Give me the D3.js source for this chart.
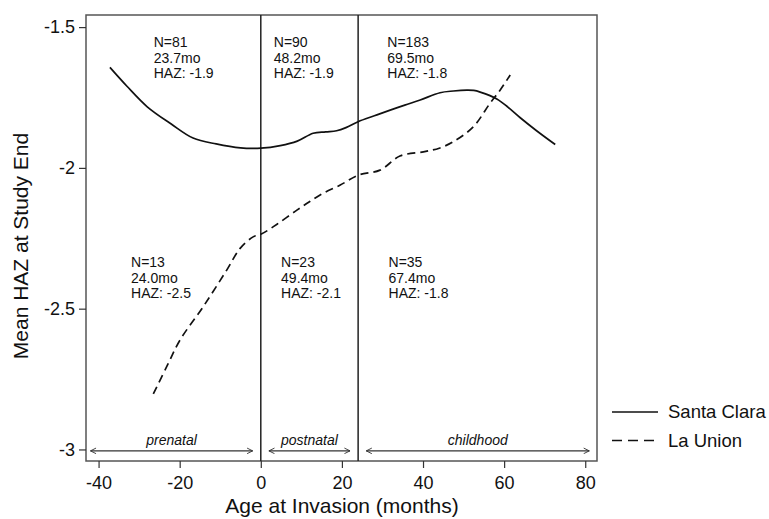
<!DOCTYPE html>
<html>
<head>
<meta charset="utf-8">
<script src="https://cdn.jsdelivr.net/npm/d3@7"></script>
<style>
  body { margin: 0; background: #fff; }
  svg text { font-family: "Liberation Sans", Arial, sans-serif; fill: #111; }
</style>
</head>
<body>
<div id="chart"></div>
<script>
// Santa Clara (solid)
const santaClaraAge = [-37.2, -33, -28, -22, -16.7, -11, -5, 0, 4.8, 9, 12.9, 16, 18.7, 21, 24, 28, 31.9, 35.5, 39.3, 44.2, 47.5, 50.8, 52.5, 54.1, 58.2, 61, 63.9, 68, 72.6];
const santaClaraHAZ = [-1.643, -1.71, -1.783, -1.845, -1.894, -1.915, -1.929, -1.93, -1.921, -1.905, -1.877, -1.872, -1.868, -1.857, -1.836, -1.815, -1.795, -1.777, -1.759, -1.733, -1.727, -1.724, -1.725, -1.731, -1.755, -1.785, -1.821, -1.868, -1.917];
// La Union (dashed)
const laUnionAge = [-26.5, -23, -19.9, -14.2, -8.4, -5.1, -1.9, 0, 4, 8.9, 12, 15.4, 19.6, 24, 29.4, 34.3, 40.1, 44, 47.5, 52.4, 56.5, 59, 61.5];
const laUnionHAZ = [-2.803, -2.70, -2.611, -2.493, -2.363, -2.286, -2.245, -2.236, -2.20, -2.15, -2.12, -2.09, -2.061, -2.026, -2.008, -1.958, -1.943, -1.93, -1.907, -1.854, -1.771, -1.724, -1.670];

const xTicks = [-40, -20, 0, 20, 40, 60, 80];
const yTicks = [-1.5, -2, -2.5, -3];
const cutoffs = [0, 24];

// period arrows
const periodStart = [-42, 2, 26];
const periodEnd = [-2, 22, 81];
const periodLabels = ["prenatal", "postnatal", "childhood"];

// group annotations
const noteAge = [-26.4, 3.2, 31.2];
const noteTop = [["N=81", "23.7mo", "HAZ: -1.9"], ["N=90", "48.2mo", "HAZ: -1.9"], ["N=183", "69.5mo", "HAZ: -1.8"]];
const noteLowAge = [-32, 5, 31.5];
const noteBottom = [["N=13", "24.0mo", "HAZ: -2.5"], ["N=23", "49.4mo", "HAZ: -2.1"], ["N=35", "67.4mo", "HAZ: -1.8"]];

const seriesNames = ["Santa Clara", "La Union"];

const W = 769, H = 519;
const box = {left: 86, right: 597, top: 15, bottom: 461};

const x = d3.scaleLinear().domain([-43.1, 82.9]).range([box.left, box.right]);
const y = d3.scaleLinear().domain([-3.041, -1.457]).range([box.bottom, box.top]);

// plain hyphen minus like the original
const fmt = d => String(d);

const svg = d3.select("#chart").append("svg")
    .attr("width", W).attr("height", H);

// frame
svg.append("rect")
    .attr("x", box.left).attr("y", box.top)
    .attr("width", box.right - box.left).attr("height", box.bottom - box.top)
    .attr("fill", "none").attr("stroke", "#555").attr("stroke-width", 1.5);

// axes
const xAxis = svg.append("g")
    .attr("transform", `translate(0,${box.bottom})`)
    .call(d3.axisBottom(x).tickValues(xTicks).tickSize(7).tickPadding(8).tickFormat(fmt));
const yAxis = svg.append("g")
    .attr("transform", `translate(${box.left},0)`)
    .call(d3.axisLeft(y).tickValues(yTicks).tickSize(7).tickPadding(4).tickFormat(fmt));
[xAxis, yAxis].forEach(a => {
    a.select(".domain").remove();
    a.selectAll("line").attr("stroke", "#333").attr("stroke-width", 1.2);
    a.selectAll("text").attr("font-size", "18px").attr("fill", "#111")
        .style("font-family", "'Liberation Sans', Arial, sans-serif");
});

// cutoff lines
svg.selectAll(".cut").data(cutoffs).enter().append("line")
    .attr("x1", d => x(d)).attr("x2", d => x(d))
    .attr("y1", box.top).attr("y2", box.bottom)
    .attr("stroke", "#222").attr("stroke-width", 1.5);

// arrows
const defs = svg.append("defs");
["start", "end"].forEach(k => {
    defs.append("marker")
        .attr("id", "arr-" + k)
        .attr("viewBox", "0 0 10 10")
        .attr("refX", k === "end" ? 9 : 1).attr("refY", 5)
        .attr("markerWidth", 7).attr("markerHeight", 7)
        .attr("markerUnits", "userSpaceOnUse")
        .attr("orient", "auto")
        .append("path")
        .attr("d", k === "end" ? "M1,1 L9,5 L1,9" : "M9,1 L1,5 L9,9")
        .attr("fill", "none").attr("stroke", "#333").attr("stroke-width", 1.3);
});
const arrowY = y(-3.005);
periodLabels.forEach((lab, i) => {
    svg.append("line")
        .attr("x1", x(periodStart[i])).attr("x2", x(periodEnd[i]))
        .attr("y1", arrowY).attr("y2", arrowY)
        .attr("stroke", "#333").attr("stroke-width", 1.3)
        .attr("marker-start", "url(#arr-start)")
        .attr("marker-end", "url(#arr-end)");
    svg.append("text")
        .attr("x", (x(periodStart[i]) + x(periodEnd[i])) / 2)
        .attr("y", arrowY - 6)
        .attr("text-anchor", "middle")
        .attr("font-size", "14px")
        .attr("font-style", "italic")
        .text(lab);
});

// annotations
function notes(ages, rows, y0) {
    ages.forEach((a, i) => {
        const t = svg.append("text")
            .attr("x", x(a)).attr("y", y0)
            .attr("font-size", "14px");
        rows[i].forEach((r, j) => {
            t.append("tspan").attr("x", x(a)).attr("y", y0 + j * 15.5).text(r);
        });
    });
}
notes(noteAge, noteTop, 47);
notes(noteLowAge, noteBottom, 267);

// curves
const line = d3.line()
    .x(d => x(d[0])).y(d => y(d[1]))
    .curve(d3.curveCatmullRom.alpha(0.5));

svg.append("path")
    .datum(d3.zip(santaClaraAge, santaClaraHAZ))
    .attr("d", line)
    .attr("fill", "none").attr("stroke", "#111").attr("stroke-width", 1.7);

svg.append("path")
    .datum(d3.zip(laUnionAge, laUnionHAZ))
    .attr("d", line)
    .attr("fill", "none").attr("stroke", "#111").attr("stroke-width", 1.7)
    .attr("stroke-dasharray", "8,5");

// legend
const legend = svg.append("g");
seriesNames.forEach((name, i) => {
    const ly = 412 + i * 28.5;
    legend.append("line")
        .attr("x1", 612).attr("x2", 658).attr("y1", ly).attr("y2", ly)
        .attr("stroke", "#111").attr("stroke-width", 1.7)
        .attr("stroke-dasharray", i === 1 ? "10,6" : null);
    legend.append("text")
        .attr("x", 668).attr("y", ly + 6)
        .attr("font-size", "18.5px")
        .text(name);
});

// axis titles
svg.append("text")
    .attr("x", 342)
    .attr("y", 513)
    .attr("text-anchor", "middle")
    .attr("font-size", "21px")
    .text("Age at Invasion (months)");

svg.append("text")
    .attr("transform", `translate(28,${246}) rotate(-90)`)
    .attr("text-anchor", "middle")
    .attr("font-size", "21px")
    .text("Mean HAZ at Study End");
</script>
</body>
</html>
